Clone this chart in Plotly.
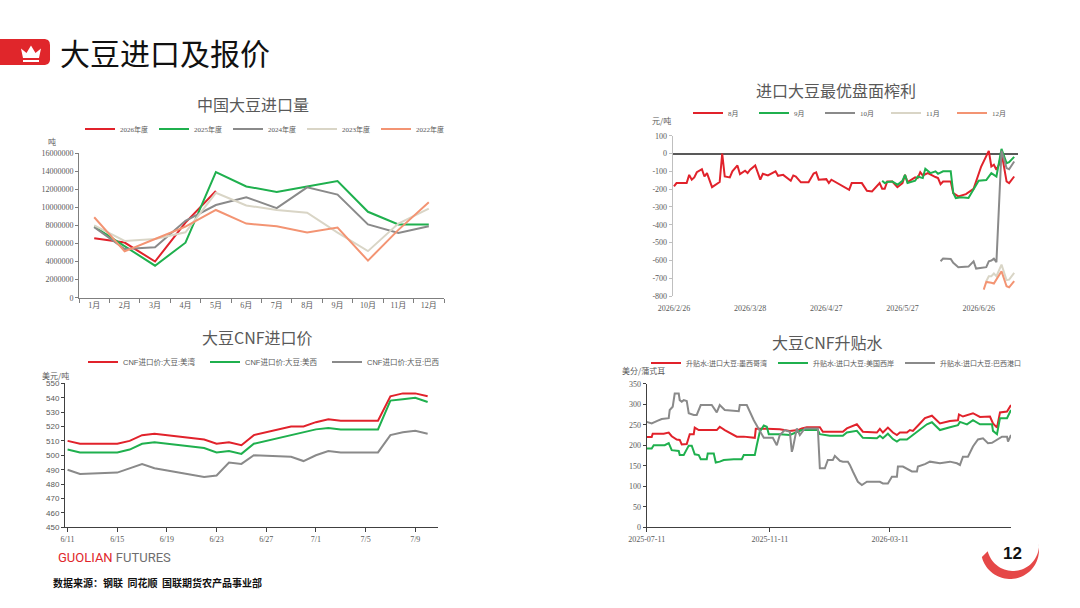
import numpy as np
import pandas as pd
import plotly.graph_objects as go

W, H = 1080, 608

RED = "#E1222B"
GREEN = "#1FB04E"
GRAY = "#8A8A8A"
BEIGE = "#D9D5C6"
ORANGE = "#F39473"
TXT = "#595959"
CJK = "Noto Sans CJK SC"
SERIF = "Liberation Serif, Noto Sans CJK SC"
SANS = "Liberation Sans, Noto Sans CJK SC"

# ---- 中国大豆进口量 (吨) ----
months = ["1月", "2月", "3月", "4月", "5月", "6月", "7月", "8月", "9月", "10月", "11月", "12月"]
imp_2026 = [6570000, 6100000, 4000000, 8300000, 11800000]
imp_2025 = [7850000, 5650000, 3540000, 6080000, 13900000, 12300000, 11700000, 12300000, 12900000, 9500000, 8100000, 8100000]
imp_2024 = [7800000, 5380000, 5570000, 8500000, 10250000, 11100000, 9900000, 12200000, 11400000, 8100000, 7150000, 7900000]
imp_2023 = [8000000, 6270000, 6500000, 7230000, 11600000, 10200000, 9700000, 9400000, 7200000, 5150000, 8200000, 9850000]
imp_2022 = [8900000, 5130000, 6490000, 7850000, 9700000, 8200000, 7900000, 7200000, 7750000, 4100000, 7500000, 10550000]

# ---- 进口大豆最优盘面榨利 (元/吨) ----
m8_dates = ["02-26", "02-27", "03-03", "03-04", "03-05", "03-06", "03-07", "03-09", "03-10", "03-11",
            "03-13", "03-16", "03-17", "03-18", "03-20", "03-21", "03-23", "03-24", "03-26", "03-27",
            "03-28", "03-30", "04-01", "04-02", "04-04", "04-07", "04-08", "04-10", "04-13", "04-14",
            "04-15", "04-17", "04-20", "04-22", "04-23", "04-24", "04-27", "04-28", "04-29", "05-06",
            "05-07", "05-11", "05-13", "05-15", "05-18", "05-19", "05-20", "05-21", "05-23", "05-25",
            "05-27", "05-28", "05-29", "06-01", "06-02", "06-03", "06-04", "06-06", "06-09", "06-10",
            "06-11", "06-12", "06-15", "06-16", "06-18", "06-21", "06-24", "06-27", "06-30", "07-01",
            "07-02", "07-03", "07-04", "07-05", "07-07", "07-08", "07-10"]
m8_vals = [-185, -166, -166, -120, -147, -134, -105, -88, -129, -110,
           -189, -160, 0, -129, -134, -100, -67, -116, -97, -110,
           -91, -67, -147, -114, -123, -100, -125, -120, -153, -123,
           -129, -162, -162, -112, -106, -147, -144, -166, -147, -204,
           -166, -166, -209, -213, -166, -198, -198, -157, -157, -189,
           -166, -120, -160, -134, -138, -105, -123, -110, -132, -138,
           -172, -157, -157, -222, -241, -228, -198, -73, 15, -73,
           -63, -91, -63, 6, -157, -166, -129]
m9_dates = ["05-19", "05-20", "05-21", "05-23", "05-25", "05-27", "05-28", "05-29", "06-01", "06-02",
            "06-04", "06-05", "06-07", "06-09", "06-10", "06-12", "06-15", "06-16", "06-17", "06-19",
            "06-22", "06-24", "06-26", "06-29", "07-01", "07-03", "07-05", "07-07", "07-08", "07-10"]
m9_vals = [-153, -166, -160, -157, -175, -153, -120, -166, -153, -129,
           -138, -86, -110, -100, -114, -100, -100, -222, -250, -246,
           -250, -203, -153, -149, -110, -129, 26, -54, -49, -19]
m10_dates = ["06-11", "06-12", "06-15", "06-16", "06-18", "06-22", "06-24", "06-25", "06-29", "06-30",
             "07-01", "07-02", "07-03", "07-05", "07-07", "07-08", "07-10"]
m10_vals = [-605, -590, -592, -614, -638, -635, -605, -646, -638, -605,
            -601, -590, -610, 15, -82, -88, -45]
m11_dates = ["06-29", "06-30", "07-01", "07-02", "07-03", "07-05", "07-07", "07-08", "07-10"]
m11_vals = [-717, -689, -689, -674, -689, -624, -711, -708, -670]
m12_dates = ["06-28", "06-29", "07-01", "07-02", "07-05", "07-07", "07-08", "07-10"]
m12_vals = [-764, -721, -726, -730, -661, -745, -751, -717]
margin_ticks = [100, 0, -100, -200, -300, -400, -500, -600, -700, -800]
margin_ticktext = ["100", "0", "-100", "-200", "-300", "-400", "-500", "-600", "-700", "-800"]

# ---- 大豆CNF进口价 (美元/吨) ----
cnf_dates = ["06-11", "06-12", "06-15", "06-16", "06-17", "06-18", "06-22", "06-23", "06-24", "06-25",
             "06-26", "06-29", "06-30", "07-01", "07-02", "07-03", "07-06", "07-07", "07-08", "07-09", "07-10"]
cnf_gulf = [510, 508, 508, 510, 514, 515, 511, 508, 509, 507, 514, 520, 520, 523, 525, 524, 524, 541, 543, 543, 541]
cnf_west = [504, 502, 502, 504, 508, 509, 505, 502, 503, 501, 508, 514, 516, 518, 519, 518, 518, 538, 539, 540, 537]
cnf_brazil = [490, 487, 488, 491, 494, 491, 485, 486, 495, 494, 500, 499, 496, 500, 503, 502, 502, 514, 516, 517, 515]

# ---- 大豆CNF升贴水 (美分/蒲式耳), days since 2025-07-11 ----
basis_start = "2025-07-11"
gulf_days = [0, 5, 6, 17, 22, 25, 30, 33, 35, 40, 43, 47, 48, 52, 63, 70, 73, 78, 90, 97,
             108, 109, 120, 133, 143, 151, 155, 160, 173, 176, 196, 200, 210, 216, 230, 233, 236, 241, 246, 250,
             253, 260, 263, 266, 273, 278, 285, 293, 303, 311, 312, 316, 326, 333, 343, 346, 350, 353, 360, 364]
gulf_vals = [220, 220, 228, 228, 231, 222, 214, 213, 202, 203, 227, 227, 243, 237, 237, 237, 245, 237, 221, 221,
             218, 240, 240, 239, 235, 237, 241, 244, 244, 233, 233, 241, 251, 233, 231, 240, 231, 243, 231, 225,
             231, 231, 237, 235, 253, 266, 272, 253, 259, 261, 275, 270, 278, 269, 270, 253, 243, 280, 282, 298]
west_days = [0, 5, 7, 18, 22, 25, 32, 33, 37, 42, 45, 48, 52, 54, 60, 61, 67, 69, 73, 77,
             87, 95, 97, 108, 110, 113, 117, 120, 122, 133, 143, 150, 155, 171, 173, 183, 196, 200, 210, 216,
             230, 233, 236, 241, 246, 250, 253, 260, 266, 273, 280, 285, 293, 303, 311, 313, 320, 326, 333, 345,
             346, 350, 353, 360, 364]
west_vals = [192, 192, 200, 200, 205, 188, 186, 176, 176, 199, 199, 178, 176, 166, 166, 180, 180, 158, 160, 164,
             166, 166, 176, 176, 200, 233, 248, 245, 227, 227, 225, 231, 237, 237, 227, 223, 223, 231, 235, 218,
             217, 223, 217, 228, 215, 209, 214, 214, 225, 240, 251, 256, 237, 244, 249, 257, 251, 261, 251, 251,
             235, 227, 266, 266, 286]
brazil_days = [0, 5, 10, 15, 22, 23, 26, 28, 32, 33, 35, 37, 40, 42, 47, 50, 54, 65, 70, 73,
               78, 92, 93, 100, 107, 112, 117, 126, 130, 133, 138, 143, 145, 146, 150, 153, 158, 171, 173, 178,
               181, 186, 188, 193, 196, 201, 203, 206, 211, 215, 220, 233, 236, 241, 245, 250, 251, 256, 260, 265,
               270, 271, 278, 283, 293, 303, 310, 313, 316, 321, 326, 331, 336, 341, 345, 350, 355, 360, 361, 364]
brazil_vals = [257, 253, 259, 264, 266, 286, 294, 326, 326, 310, 306, 310, 308, 278, 274, 274, 298, 298, 280, 298,
               286, 283, 298, 298, 261, 241, 218, 218, 200, 225, 237, 233, 184, 192, 241, 225, 241, 241, 144, 144,
               164, 164, 174, 162, 160, 160, 152, 136, 111, 103, 111, 111, 107, 107, 123, 123, 148, 148, 142, 136,
               136, 148, 154, 160, 156, 160, 156, 152, 172, 172, 197, 214, 217, 205, 206, 213, 221, 221, 209, 225]


def fx(px):
    return px / W


def fy(py):
    return 1 - py / H


def to_path(points, close=True):
    s = "M " + " L ".join(f"{fx(x):.5f},{fy(y):.5f}" for x, y in points)
    return s + (" Z" if close else "")


def d26(lst):
    return ["2026-" + d for d in lst]


def basis_x(days):
    return pd.Timestamp(basis_start) + pd.to_timedelta(days, unit="D")


fig = go.Figure()


def add_line(x, y, name, color, xa, ya, legend):
    fig.add_trace(go.Scatter(x=x, y=y, name=name, mode="lines",
                             line=dict(color=color, width=2),
                             xaxis=xa, yaxis=ya, legend=legend, hoverinfo="skip"))


# chart 1
add_line(months[:len(imp_2026)], imp_2026, "2026年度", RED, "x", "y", "legend")
add_line(months, imp_2025, "2025年度", GREEN, "x", "y", "legend")
add_line(months, imp_2024, "2024年度", GRAY, "x", "y", "legend")
add_line(months, imp_2023, "2023年度", BEIGE, "x", "y", "legend")
add_line(months, imp_2022, "2022年度", ORANGE, "x", "y", "legend")

# chart 2
add_line(d26(m8_dates), m8_vals, "8月", RED, "x2", "y2", "legend2")
add_line(d26(m9_dates), m9_vals, "9月", GREEN, "x2", "y2", "legend2")
add_line(d26(m10_dates), m10_vals, "10月", GRAY, "x2", "y2", "legend2")
add_line(d26(m11_dates), m11_vals, "11月", BEIGE, "x2", "y2", "legend2")
add_line(d26(m12_dates), m12_vals, "12月", ORANGE, "x2", "y2", "legend2")

# chart 3
add_line(d26(cnf_dates), cnf_gulf, "CNF进口价:大豆:美湾", RED, "x3", "y3", "legend3")
add_line(d26(cnf_dates), cnf_west, "CNF进口价:大豆:美西", GREEN, "x3", "y3", "legend3")
add_line(d26(cnf_dates), cnf_brazil, "CNF进口价:大豆:巴西", GRAY, "x3", "y3", "legend3")

# chart 4
add_line(basis_x(gulf_days), gulf_vals, "升贴水:进口大豆:墨西哥湾", RED, "x4", "y4", "legend4")
add_line(basis_x(west_days), west_vals, "升贴水:进口大豆:美国西岸", GREEN, "x4", "y4", "legend4")
add_line(basis_x(brazil_days), brazil_vals, "升贴水:进口大豆:巴西港口", GRAY, "x4", "y4", "legend4")


def tfont(fam=SERIF, size=8):
    return dict(family=fam, size=size, color=TXT)


def legend_box(x, y, width, fam=SERIF, size=7):
    return dict(x=fx(x), y=fy(y), xanchor="left", yanchor="middle", orientation="h",
                font=tfont(fam, size), bgcolor="rgba(0,0,0,0)", itemwidth=30,
                entrywidth=width, entrywidthmode="pixels", itemclick=False)


AX = "#7F7F7F"
DAY = 86400000

fig.update_layout(
    width=W, height=H, margin=dict(l=0, r=0, t=0, b=0, autoexpand=False),
    paper_bgcolor="white", plot_bgcolor="white",
    xaxis=dict(domain=[fx(79), fx(444)], anchor="y", type="category", range=[-0.5, 11.5],
               tickson="boundaries", ticks="outside", ticklen=4, tickcolor=AX,
               showline=True, linecolor=AX, showgrid=False, tickfont=tfont()),
    yaxis=dict(domain=[fy(297.7), fy(153)], anchor="x", range=[0, 16000000], dtick=2000000,
               tickformat="d", ticks="outside", ticklen=3, tickcolor=AX,
               showline=True, linecolor=AX, showgrid=False, zeroline=False, tickfont=tfont()),
    xaxis2=dict(domain=[fx(672.7), fx(1018)], anchor="y2", type="date",
                range=["2026-02-25 12:00", "2026-07-11 12:00"],
                tick0="2026-02-26", dtick=30 * DAY, tickformat="%Y/%-m/%-d", ticks="",
                ticklabelstandoff=6,
                showline=False, showgrid=False, zeroline=False, tickfont=tfont()),
    yaxis2=dict(domain=[fy(296), fy(135.7)], anchor="x2", range=[-800, 100],
                tickvals=margin_ticks, ticktext=margin_ticktext, ticks="outside", ticklen=3,
                tickcolor="#BFBFBF", showline=True, linecolor="#BFBFBF", showgrid=False,
                zeroline=True, zerolinecolor="#595959", zerolinewidth=1.5, tickfont=tfont()),
    xaxis3=dict(domain=[fx(65), fx(438)], anchor="y3", type="date",
                range=["2026-06-10 19:00", "2026-07-10 20:00"],
                tick0="2026-06-11", dtick=4 * DAY, tickformat="%-m/%-d", ticks="outside",
                ticklen=4, tickcolor="#404040", showline=True, linecolor="#404040",
                showgrid=False, zeroline=False, tickfont=tfont()),
    yaxis3=dict(domain=[fy(527.3), fy(383.3)], anchor="x3", range=[450, 550], dtick=10,
                ticks="outside", ticklen=3, tickcolor="#404040", showline=True,
                linecolor="#404040", showgrid=False, zeroline=False, tickfont=tfont(SANS, 8)),
    xaxis4=dict(domain=[fx(646.7), fx(1011)], anchor="y4", type="date",
                range=["2025-07-11", "2026-07-10"],
                tick0="2025-07-11", dtick="M4", tickformat="%Y-%m-%d", ticks="outside",
                ticklen=4, tickcolor="#404040", showline=True, linecolor="#404040",
                showgrid=False, zeroline=False, tickfont=tfont()),
    yaxis4=dict(domain=[fy(527.3), fy(383.7)], anchor="x4", range=[0, 350], dtick=50,
                ticks="outside", ticklen=3, tickcolor="#404040", showline=True,
                linecolor="#404040", showgrid=False, zeroline=False, tickfont=tfont()),
    legend=legend_box(80, 129, 29),
    legend2=legend_box(688, 113, 21),
    legend3=legend_box(83, 362, 77, SANS, 7.5),
    legend4=legend_box(646, 363, 82),
    hovermode=False,
)
for ax in ["xaxis", "yaxis", "xaxis2", "yaxis2", "xaxis3", "yaxis3", "xaxis4", "yaxis4"]:
    fig.layout[ax].automargin = False

# titles and units
texts = [
    ("中国大豆进口量", 253, 104, 16, "center"),
    ("进口大豆最优盘面榨利", 836, 90, 16, "center"),
    ("大豆CNF进口价", 257, 337, 16, "center"),
    ("大豆CNF升贴水", 827, 342, 16, "center"),
    ("吨", 46, 141, 8, "left"),
    ("元/吨", 650, 120, 8, "left"),
    ("美元/吨", 40, 375, 8, "left"),
    ("美分/蒲式耳", 620, 370, 8, "left"),
]
for t, x, y, s, anc in texts:
    fig.add_annotation(text=t, x=fx(x), y=fy(y), xref="paper", yref="paper", showarrow=False,
                       xanchor=anc, yanchor="middle", font=dict(family=CJK, size=s, color=TXT))

# header
fig.add_annotation(text="大豆进口及报价", x=fx(58), y=fy(52), xref="paper", yref="paper",
                   showarrow=False, xanchor="left", yanchor="middle",
                   font=dict(family=CJK, size=30, color="#111111"))
head_box = [(0, 39), (45, 39), (48, 40), (49.5, 42), (50, 45), (50, 60), (49.5, 62), (48, 64), (45, 65), (0, 65)]
fig.add_shape(type="path", path=to_path(head_box), xref="paper", yref="paper",
              fillcolor="#E0262B", line=dict(width=0))
crown = [(21, 48.5), (26.5, 53), (31, 45.5), (35.5, 53), (41, 48.5), (39, 58), (23, 58)]
fig.add_shape(type="path", path=to_path(crown), xref="paper", yref="paper",
              fillcolor="white", line=dict(width=0))
fig.add_shape(type="path", path=to_path([(23, 60), (39, 60), (39, 62), (23, 62)]),
              xref="paper", yref="paper", fillcolor="white", line=dict(width=0))

# footer
fig.add_annotation(text="<span style='color:#E0262B'>GUOLIAN</span> FUTURES", x=fx(56), y=fy(557),
                   xref="paper", yref="paper", showarrow=False, xanchor="left", yanchor="middle",
                   font=dict(family="Roboto", size=13, color="#6E6E6E"))
fig.add_annotation(text="<b>数据来源：钢联  同花顺  国联期货农产品事业部</b>", x=fx(51), y=fy(582),
                   xref="paper", yref="paper", showarrow=False, xanchor="left", yanchor="middle",
                   font=dict(family=CJK, size=10, color="#111111"))
fig.add_annotation(text="<b>12</b>", x=fx(1012), y=fy(553), xref="paper", yref="paper",
                   showarrow=False, xanchor="center", yanchor="middle",
                   font=dict(family="Liberation Sans", size=17, color="#111111"))
ang_out = np.radians(np.linspace(166, -4, 40))
ang_in = np.radians(np.linspace(-4, 166, 40))
outer = [(1010 + 29 * np.cos(a), 550 + 29 * np.sin(a)) for a in ang_out]
inner = [(1013 + 26 * np.cos(a), 545 + 26 * np.sin(a)) for a in ang_in]
fig.add_shape(type="path", path=to_path(outer + inner), xref="paper", yref="paper",
              fillcolor="#E23434", opacity=0.9, line=dict(width=0))

fig.write_html("out.html", config={"displayModeBar": False},
               post_script="document.body.style.margin='0';")
